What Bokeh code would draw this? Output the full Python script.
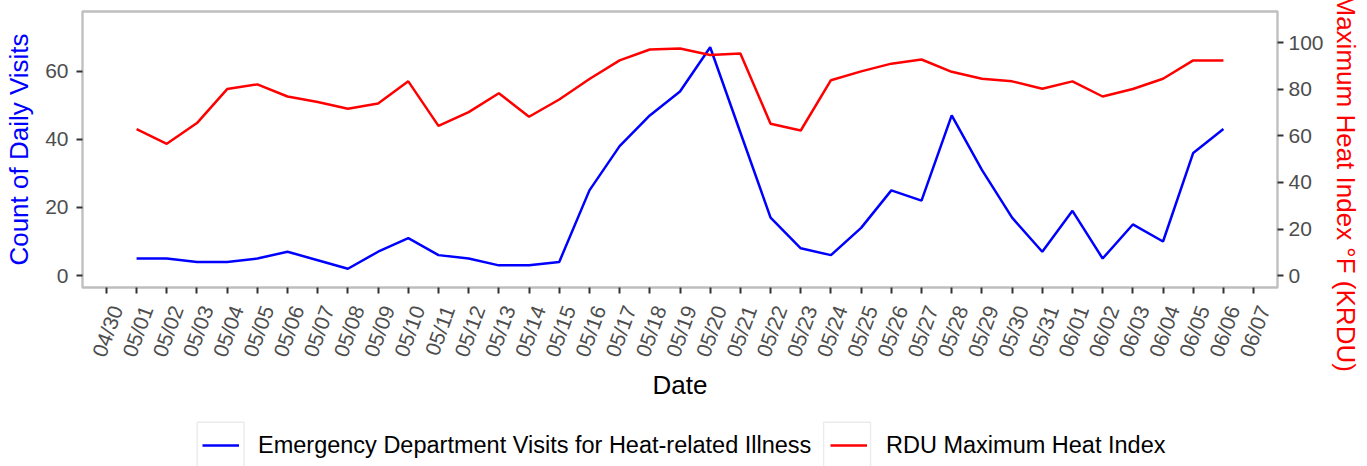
import math
import pandas as pd
from bokeh.plotting import figure
from bokeh.layouts import column
from bokeh.models import (Range1d, LinearAxis, DatetimeAxis, FixedTicker, DaysTicker,
                          DatetimeTickFormatter, Legend, LegendItem, Title, BoxAnnotation,
                          CustomLabelingPolicy)
from bokeh.embed import file_html
from bokeh.resources import INLINE

# ---- data ----
day_labels = ["05/01", "05/02", "05/03", "05/04", "05/05", "05/06", "05/07", "05/08",
              "05/09", "05/10", "05/11", "05/12", "05/13", "05/14", "05/15", "05/16",
              "05/17", "05/18", "05/19", "05/20", "05/21", "05/22", "05/23", "05/24",
              "05/25", "05/26", "05/27", "05/28", "05/29", "05/30", "05/31", "06/01",
              "06/02", "06/03", "06/04", "06/05", "06/06"]
ed_visits = [5, 5, 4, 4, 5, 7, 4.5, 2, 7, 11, 6, 5, 3, 3, 4, 25, 38, 47, 54, 67, 42, 17,
             8, 6, 14, 25, 22, 47, 31, 17, 7, 19, 5, 15, 10, 36, 43]
heat_index = [62.9, 56.6, 65.5, 80.1, 82.1, 76.9, 74.5, 71.6, 73.9, 83.4, 64.3, 70.2,
              78.3, 68.2, 75.6, 84.4, 92.4, 97.1, 97.5, 94.7, 95.4, 65.2, 62.3, 83.9,
              87.7, 91.0, 92.8, 87.5, 84.5, 83.4, 80.2, 83.4, 76.9, 80.1, 84.5, 92.4, 92.4]
left_ticks = [0, 20, 40, 60]
right_ticks = [0, 20, 40, 60, 80, 100]
x_first_tick = "04/30"
x_last_tick = "06/07"
series_names = ["Emergency Department Visits for Heat-related Illness",
                "RDU Maximum Heat Index"]
series_colors = ["#0000ff", "#ff0000"]

YEAR = "2023/"
dates = pd.to_datetime([YEAR + d for d in day_labels])
t0 = pd.Timestamp(YEAR + x_first_tick)
t1 = pd.Timestamp(YEAR + x_last_tick)
pad = pd.Timedelta(hours=19)
n_days = (t1 - t0).days
# label anchors sit a little to the right of each tick (as in the reference)
label_ticks = [int((t0 + pd.Timedelta(days=k, hours=8)).value // 10**6)
               for k in range(n_days + 1)]

FONT = "Liberation Sans"
GREY = "#4d4d4d"
W = 1367
H1 = 405
FL, FR, FT, FB = 82, 1280, 11, 287   # frame edges in page pixels

p = figure(width=W, height=H1, output_backend="svg", toolbar_location=None,
           x_axis_type=None,
           x_range=Range1d(t0 - pad, t1 + pad),
           y_range=Range1d(-3.5, 77.5),
           min_border_left=FL, min_border_right=W - FR, min_border_top=FT,
           min_border_bottom=H1 - FB)
p.extra_y_ranges = {"hi": Range1d(-5.12, 113.4)}
p.grid.visible = False
p.outline_line_color = "#bebebe"
p.outline_line_width = 2.3
p.background_fill_color = "white"
p.border_fill_color = "white"

r_blue = p.line(dates, ed_visits, color=series_colors[0], line_width=2.5)
r_red = p.line(dates, heat_index, color=series_colors[1], line_width=2.5,
               y_range_name="hi")


def style_axis(ax):
    ax.axis_line_color = None
    ax.major_tick_line_color = "#333333"
    ax.major_tick_line_width = 2
    ax.major_tick_out = 6
    ax.major_tick_in = 0
    ax.minor_tick_line_color = None
    ax.major_label_text_font = FONT
    ax.major_label_text_font_size = "21px"
    ax.major_label_text_color = GREY
    ax.axis_label_text_font = FONT
    ax.axis_label_text_font_size = "26px"
    ax.axis_label_text_font_style = "normal"


fmt = DatetimeTickFormatter(days="%m/%d", months="%m/%d", hours="%m/%d",
                            hourmin="%m/%d", minutes="%m/%d", minsec="%m/%d",
                            seconds="%m/%d", milliseconds="%m/%d",
                            microseconds="%m/%d", years="%m/%d")

# x axis 1: tick marks only (its labels are suppressed and take no room)
xa = DatetimeAxis(ticker=DaysTicker(days=list(range(1, 32))), formatter=fmt)
style_axis(xa)
xa.major_label_text_font_size = "0px"
xa.major_label_policy = CustomLabelingPolicy(
    code="return new indices.constructor(indices.size)")
xa.major_label_standoff = 0
p.add_layout(xa, "below")

# x axis 2: rotated labels and title
xb = DatetimeAxis(ticker=FixedTicker(ticks=label_ticks), formatter=fmt)
style_axis(xb)
xb.major_tick_out = 0
xb.major_tick_line_color = None
xb.major_label_orientation = math.radians(70)
xb.major_label_standoff = 13
xb.axis_label = "Date"
xb.axis_label_text_color = "black"
xb.axis_label_standoff = 3
p.add_layout(xb, "below")

# left axis
ya = p.yaxis[0]
style_axis(ya)
ya.ticker = FixedTicker(ticks=left_ticks)
ya.major_label_standoff = 8
ya.axis_label = "Count of Daily Visits"
ya.axis_label_text_color = series_colors[0]
ya.axis_label_standoff = 8

# right axis
ra = LinearAxis(y_range_name="hi", ticker=FixedTicker(ticks=right_ticks))
style_axis(ra)
ra.major_label_standoff = 5
p.add_layout(ra, "right")

p.add_layout(Title(text="Maximum Heat Index °F (KRDU)", align="left", offset=-17,
                   standoff=9, text_font=FONT, text_font_size="26px",
                   text_font_style="normal", text_color=series_colors[1]), "right")

# ---- legend strip (frame aligned with the plot's frame) ----
H2 = 466 - H1
p2 = figure(width=W, height=H2, output_backend="svg", toolbar_location=None,
            x_axis_type=None, y_axis_type=None,
            x_range=Range1d(FL, FR), y_range=Range1d(0, H2),
            min_border_left=FL, min_border_right=W - FR, min_border_top=0,
            min_border_bottom=0)
p2.grid.visible = False
p2.outline_line_color = None

key_boxes = [(197, 244), (825, 872)]
for name, col, (bl, br) in zip(series_names, series_colors, key_boxes):
    proxy = p2.line([math.nan], [math.nan], color=col, line_width=2.5)
    p2.add_layout(BoxAnnotation(left=bl, right=br, top=44.3, bottom=-5,
                                fill_alpha=0, line_color="#bebebe", line_width=1.4))
    leg = Legend(items=[LegendItem(label=name, renderers=[proxy])],
                 location=(bl + 5 - FL, 6), orientation="horizontal",
                 glyph_width=37, glyph_height=30, label_height=30,
                 label_standoff=19, padding=0, margin=0,
                 label_text_font=FONT, label_text_font_size="23.5px",
                 label_text_color="black", border_line_color=None,
                 background_fill_alpha=0)
    p2.add_layout(leg, "center")

open("out.html", "w").write(file_html(column(p, p2, spacing=0), INLINE))
